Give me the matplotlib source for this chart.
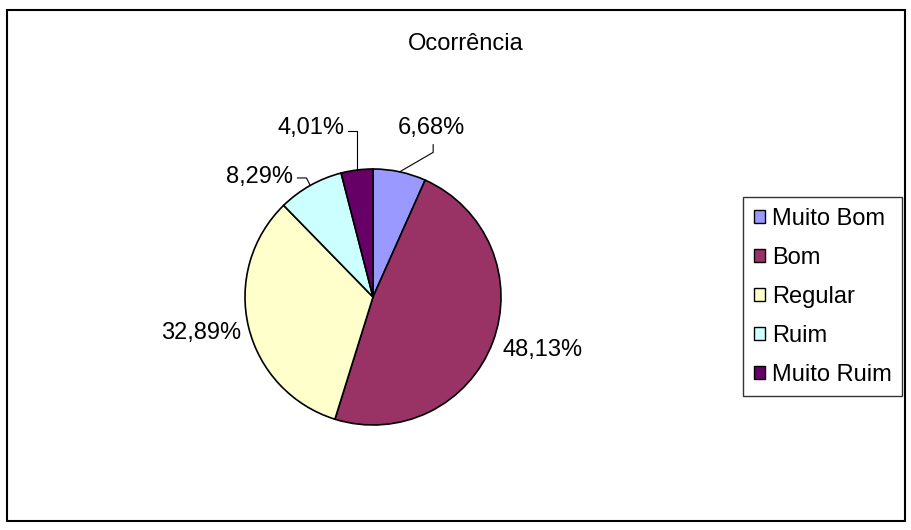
import numpy as np
import matplotlib
import matplotlib.pyplot as plt
from matplotlib.patches import Rectangle
matplotlib.use('Agg')

plt.rcParams['font.family'] = ['Liberation Sans', 'DejaVu Sans']

# Dados
categorias = ['Muito Bom', 'Bom', 'Regular', 'Ruim', 'Muito Ruim']
valores = [6.68, 48.13, 32.89, 8.29, 4.01]
cores = ['#9999FF', '#993366', '#FFFFCC', '#CCFFFF', '#660066']
titulo = 'Ocorrência'

fig = plt.figure(figsize=(9.12, 5.30), dpi=100)
W, H = 912, 530

# Moldura externa
fig.patches.append(Rectangle((7 / W, 9 / H), 898 / W, 511 / H, transform=fig.transFigure,
                             fill=False, edgecolor='black', linewidth=1.5))

fig.text(466 / W, 1 - 44 / H, titulo, ha='center', va='center', fontsize=17)

# Pizza
ax = fig.add_axes([245 / W, 105 / H, 256 / W, 256 / H])
wedges, _ = ax.pie(valores, colors=cores, startangle=90, counterclock=False,
                   wedgeprops=dict(edgecolor='black', linewidth=1.2))
ax.set_xlim(-1, 1)
ax.set_ylim(-1, 1)
ax.set_aspect('equal')
ax.axis('off')

# Rótulos (distância radial e desvio angular em graus)
dist = [1.40, 1.39, 1.37, 1.29, 1.41]
desvio = [-7, 3.4, -1.6, 14, 13]
for w, v, d, dv in zip(wedges, valores, dist, desvio):
    ang = np.deg2rad((w.theta1 + w.theta2) / 2)
    ang_t = ang + np.deg2rad(dv)
    x, y = d * np.cos(ang_t), d * np.sin(ang_t)
    txt = f'{v:.2f}%'.replace('.', ',')
    ax.text(x, y, txt, ha='center', va='center', fontsize=17)

# Linhas guia das fatias pequenas
def borda(i):
    a = np.deg2rad((wedges[i].theta1 + wedges[i].theta2) / 2)
    return np.cos(a), np.sin(a)

ex, ey = borda(0)
ax.plot([0.47, 0.47, ex], [1.19, 1.13, ey], color='black', linewidth=0.8, clip_on=False)
ex, ey = borda(4)
ax.plot([ex - 0.07, ex, ex], [1.30, 1.30, ey], color='black', linewidth=0.8, clip_on=False)
ex, ey = borda(3)
ax.plot([-0.59, -0.52, ex], [0.93, 0.93, ey], color='black', linewidth=0.8, clip_on=False)

handles = [Rectangle((0, 0), 1, 1, facecolor=c, edgecolor='black', linewidth=1) for c in cores]
leg = fig.legend(handles, categorias, loc='upper left', bbox_to_anchor=(743 / W, 1 - 197 / H),
                 fontsize=17, frameon=True, fancybox=False, edgecolor='black',
                 handlelength=0.5, handleheight=0.5, handletextpad=0.28,
                 labelspacing=0.72, borderpad=0.45, borderaxespad=0)
leg.get_frame().set_linewidth(1)

fig.savefig('out.png', dpi=100)
